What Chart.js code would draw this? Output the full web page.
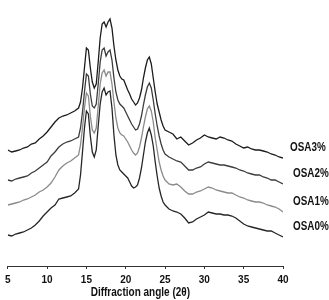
<!DOCTYPE html>
<html>
<head>
<meta charset="utf-8">
<script src="https://cdn.jsdelivr.net/npm/chart.js@4.4.0/dist/chart.umd.min.js"></script>
<style>
html,body{margin:0;padding:0;background:#fff;}
canvas{display:block;}
</style>
</head>
<body>
<canvas id="c" width="329" height="300"></canvas>
<script>
// Diffraction angle 2θ (degrees)
const angles = [
  5,5.5,6,6.5,7,7.5,8,8.5,9,9.5,10,10.5,11,11.5,12,12.5,13,13.5,
  14,14.25,14.5,14.75,15,15.25,15.5,15.75,16,16.25,16.5,16.75,17,17.25,17.5,17.75,18,18.25,18.5,18.75,
  19,19.25,19.5,19.75,20,20.25,20.5,20.75,21,21.25,21.5,21.75,22,22.25,22.5,22.75,23,23.25,23.5,23.75,
  24,24.25,24.5,24.75,
  25,25.5,26,26.5,27,27.5,28,28.5,29,29.5,30,30.5,31,31.5,32,32.5,33,33.5,34,34.5,35,35.5,36,36.5,
  37,37.5,38,38.5,39,39.5,40
];
// Intensities (a.u., stacked offsets as in figure)
const osa3 = [
  116,114,115,116,118,119,122,123,127,130,134,139,144,148,150,151,153,155,
  158,164,178,198,218,216,198,184,178,182,204,228,242,244,239,244,247,238,220,206,196,190,187,186,181,176,172,167,164,161,163,168,176,188,198,206,209,202,188,174,162,154,146,140,
  136,134,132,127,129,125,121,123,126,128,131,129,128,127,129,128,126,125,122,120,118,119,117,116,116,115,114,112,111,109,108
];
const osa2 = [
  86,85,87,88,89,90,93,95,98,101,104,110,114,119,122,124,125,127,
  129,138,154,174,192,190,172,160,158,162,182,204,216,218,210,214,216,206,188,174,166,162,160,158,154,150,146,142,139,136,137,142,150,161,171,179,183,178,166,152,140,130,122,116,
  112,109,107,105,104,100,96,96,98,99,102,104,103,102,101,101,100,99,98,96,95,93,92,91,91,89,88,86,86,84,82
];
const osa1 = [
  61,62,63,64,66,67,69,71,74,76,79,83,89,96,100,103,105,108,
  111,121,138,158,173,170,150,136,133,138,160,182,193,196,190,194,194,182,164,148,138,133,131,130,127,124,120,116,113,111,113,119,128,139,149,157,160,155,144,128,116,104,96,90,
  86,82,81,82,79,75,72,72,74,75,77,79,78,76,75,74,73,73,71,69,68,66,65,64,64,63,61,60,59,57,54
];
const osa0 = [
  31,30,32,33,34,36,38,41,45,50,54,58,61,67,68,69,70,73,
  77,91,114,138,155,152,130,114,109,116,140,162,174,178,171,174,175,158,131,111,101,96,94,92,90,88,84,80,78,79,81,88,98,111,124,133,138,131,120,104,90,78,70,64,
  61,57,55,54,52,48,43,44,47,49,51,54,53,52,52,51,51,50,48,45,42,40,39,38,37,36,35,35,33,31,29
];
const seriesNames = ['OSA3%','OSA2%','OSA1%','OSA0%'];
const xTicks = [5,10,15,20,25,30,35,40];
const xTitle = 'Diffraction angle (2\u03b8)';

const seriesData = [osa3, osa2, osa1, osa0];
const colors = ['#1c1c1c','#3c3c3c','#8a8a8a','#262626'];
const FONT = '"Liberation Sans",Arial,sans-serif';

const datasets = seriesData.map((arr,i)=>({
  label: seriesNames[i],
  data: arr.map((v,j)=>({x: angles[j], y: v})),
  borderColor: colors[i],
  borderWidth: 1.3,
  pointRadius: 0,
  tension: 0,
  fill: false
}));

function narrowText(ctx, text, x, y, align, sx){
  const w = ctx.measureText(text).width * sx;
  let left = x;
  if (align === 'center') left = x - w/2;
  ctx.save();
  ctx.translate(left, y);
  ctx.scale(sx, 1);
  ctx.textAlign = 'left';
  ctx.fillText(text, 0, 0);
  ctx.restore();
}

const textPlugin = {
  id: 'texts',
  afterDraw(chart){
    const ctx = chart.ctx;
    const ys = chart.scales.y;
    const ca = chart.chartArea;
    ctx.save();
    ctx.fillStyle = '#111';
    ctx.textBaseline = 'middle';
    ctx.font = 'bold 13px ' + FONT;
    seriesData.forEach((arr,i)=>{
      const yp = ys.getPixelForValue(arr[arr.length-1]) - 11;
      const xp = ca.right + (i===0 ? 7 : 10);
      narrowText(ctx, seriesNames[i], xp, yp, 'left', 0.76);
    });
    ctx.font = 'bold 13px ' + FONT;
    narrowText(ctx, xTitle, (ca.left + ca.right)/2 - 5, chart.height - 8, 'center', 0.77);
    ctx.restore();
  }
};

new Chart(document.getElementById('c'), {
  type: 'line',
  data: { datasets },
  options: {
    responsive: false,
    animation: false,
    events: [],
    layout: { padding: { left: 6, right: 46, top: 0, bottom: 0 } },
    plugins: { legend: { display: false }, tooltip: { enabled: false } },
    scales: {
      x: {
        type: 'linear',
        min: 5, max: 40,
        afterBuildTicks(scale){ scale.ticks = xTicks.map(v=>({value:v})); },
        afterFit(scale){ scale.height = 34; },
        grid: { drawOnChartArea: false, drawTicks: true, tickLength: 3, color: '#333', lineWidth: 1 },
        border: { display: true, color: '#333', width: 1 },
        ticks: { color: '#111', font: { family: FONT, size: 10, weight: 'bold' }, padding: 5, maxRotation: 0, autoSkip: false },
        title: { display: false }
      },
      y: {
        display: false,
        min: 0, max: 266
      }
    }
  },
  plugins: [textPlugin]
});
</script>
</body>
</html>
